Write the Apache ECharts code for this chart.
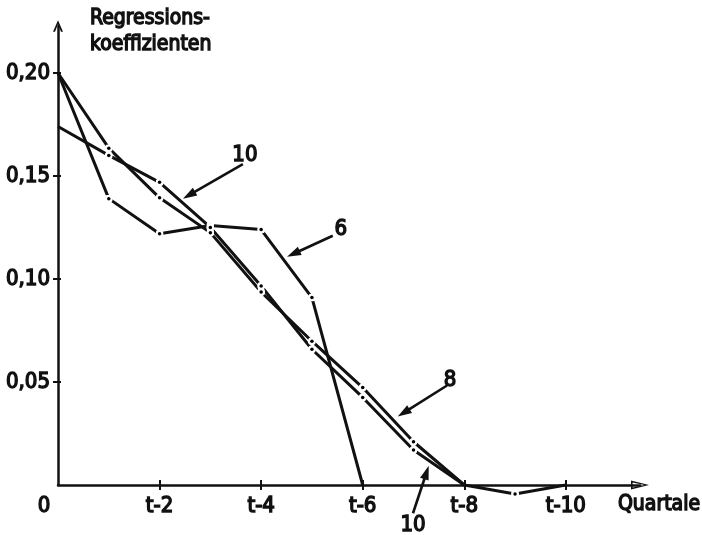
<!DOCTYPE html>
<html><head><meta charset="utf-8">
<script src="https://cdn.jsdelivr.net/npm/echarts@6/dist/echarts.min.js"></script>
<style>html,body{margin:0;padding:0;background:#fff}#c{width:702px;height:535px}</style>
</head><body><div id="c"></div>
<script>
// ---- data ----
const quarters = [0, 1, 2, 3, 4, 5, 6, 7, 8, 9, 10];
const xTickValues = [0, 2, 4, 6, 8, 10];
const xTickLabels = ['0', 't-2', 't-4', 't-6', 't-8', 't-10'];
const yTickValues = [0.05, 0.10, 0.15, 0.20];
const yTickLabels = ['0,05', '0,10', '0,15', '0,20'];
const lag6 = [0.200, 0.139, 0.122, 0.126, 0.124, 0.091, 0];
const lag8 = [0.200, 0.1635, 0.1394, 0.1225, 0.0937, 0.0698, 0.0473, 0.021, 0];
const lag10 = [0.174, 0.160, 0.1469, 0.125, 0.0966, 0.0659, 0.0425, 0.017, 0, -0.0044, 0];
const annotLabels = ['10', '6', '8', '10'];
const annotTail = [[3.64, 0.1557], [5.41, 0.121], [7.66, 0.0483], [6.99, -0.0137]];
const annotHead = [[2.46, 0.139], [4.51, 0.1108], [6.69, 0.0332], [7.30, 0.0093]];
const annotText = [[3.68, 0.160], [5.57, 0.124], [7.72, 0.0508], [6.99, -0.0195]];

const FONT = '"DejaVu Sans Condensed", "DejaVu Sans", sans-serif';
const INK = '#111';
const FS = 22;
const TXT = { color: INK, fontFamily: FONT, fontSize: FS, fontWeight: 'normal', textBorderColor: INK, textBorderWidth: 1.4 };

const dotSvg = '<svg xmlns="http://www.w3.org/2000/svg" width="16" height="16"><circle cx="8" cy="8" r="8" fill="white"/><circle cx="8" cy="8" r="3.5" fill="black"/></svg>';
const dotSym = 'image://data:image/svg+xml;charset=utf-8,' + encodeURIComponent(dotSvg);

function build(arr) {
  return arr.map((v, i) => ({
    value: [quarters[i], v],
    symbol: (i === 0 || i === arr.length - 1 || v === 0) ? 'none' : dotSym
  }));
}
function lineSeries(name, arr) {
  return {
    name, type: 'line', data: build(arr), clip: false,
    symbolSize: 8, showSymbol: true, animation: false,
    lineStyle: { color: INK, width: 3 },
    itemStyle: { color: INK }
  };
}

const yArrow = 'path://M6,0 L12,14 L9.6,14 L6,5 L2.4,14 L0,14 Z';
const xArrow = 'path://M5,0 L10,20 L0,20 Z M5,5 L2.2,18.2 L7.8,18.2 Z';

const chart = echarts.init(document.getElementById('c'), null, { renderer: 'canvas' });
const xLab = Object.assign({
  customValues: xTickValues, margin: 10,
  formatter: v => { const i = xTickValues.indexOf(v); return v === 0 ? '{z|0}' : (i >= 0 ? xTickLabels[i] : ''); },
  rich: { z: Object.assign({ padding: [0, 28, 0, 0] }, TXT) }
}, TXT);
chart.setOption({
  animation: false,
  backgroundColor: '#fff',
  grid: { left: 58, right: 62, top: 26, bottom: 50, containLabel: false, outerBoundsMode: 'none' },
  xAxis: [{
    type: 'value', min: 0, max: 11.46,
    axisLine: { show: true, onZero: false, symbol: ['none', xArrow], symbolSize: [9, 22], lineStyle: { color: INK, width: 2.5 } },
    axisTick: { show: true, customValues: [2, 4, 6, 8, 10], length: 5, lineStyle: { color: INK, width: 2 } },
    axisLabel: xLab,
    splitLine: { show: false },
    name: 'Quartale', nameLocation: 'end', nameGap: -22,
    nameTextStyle: Object.assign({}, TXT, { fontSize: 21, align: 'left', verticalAlign: 'top', padding: [9, 0, 0, 0] })
  }, {
    type: 'value', min: 0, max: 11.46, position: 'bottom', offset: 0,
    axisLine: { show: false }, axisLabel: { show: false }, splitLine: { show: false },
    axisTick: { show: true, inside: true, customValues: [2, 4, 6, 8, 10], length: 5, lineStyle: { color: INK, width: 2 } }
  }],
  yAxis: [{
    type: 'value', min: 0, max: 0.2228,
    axisLine: { show: true, onZero: false, symbol: ['none', yArrow], symbolSize: [10, 14], lineStyle: { color: INK, width: 2.5 } },
    axisTick: { show: true, customValues: yTickValues, length: 5, lineStyle: { color: INK, width: 2 } },
    axisLabel: Object.assign({
      customValues: yTickValues, margin: 8,
      formatter: v => { const i = yTickValues.findIndex(t => Math.abs(t - v) < 1e-9); return i >= 0 ? yTickLabels[i] : ''; }
    }, TXT),
    splitLine: { show: false },
    name: 'Regressions-\nkoeffizienten', nameLocation: 'end', nameGap: 20,
    nameTextStyle: Object.assign({}, TXT, { fontSize: 21, align: 'left', verticalAlign: 'top', lineHeight: 26, padding: [0, 0, 0, 32] })
  }, {
    type: 'value', min: 0, max: 0.2228, position: 'left', offset: 0,
    axisLine: { show: false }, axisLabel: { show: false }, splitLine: { show: false },
    axisTick: { show: true, inside: true, customValues: yTickValues, length: 3, lineStyle: { color: INK, width: 2 } }
  }],
  series: [lineSeries('6', lag6), lineSeries('8', lag8), lineSeries('10', lag10)]
});

// annotations positioned through the chart's own scales
const g = [];
annotLabels.forEach((lab, i) => {
  const T = chart.convertToPixel({ seriesIndex: 0 }, annotTail[i]);
  const H = chart.convertToPixel({ seriesIndex: 0 }, annotHead[i]);
  const P = chart.convertToPixel({ seriesIndex: 0 }, annotText[i]);
  const dx = H[0] - T[0], dy = H[1] - T[1], len = Math.hypot(dx, dy);
  const ux = dx / len, uy = dy / len, L = 14, w = 4.5;
  const bx = H[0] - ux * L, by = H[1] - uy * L;
  g.push({ type: 'line', shape: { x1: T[0], y1: T[1], x2: bx + ux * 2, y2: by + uy * 2 }, style: { stroke: INK, lineWidth: 2.6 }, z: 10 });
  g.push({ type: 'polygon', shape: { points: [[H[0], H[1]], [bx - uy * w, by + ux * w], [bx + uy * w, by - ux * w]] }, style: { fill: INK }, z: 10 });
  g.push({ type: 'text', x: P[0], y: P[1], style: { text: lab, fill: INK, stroke: INK, lineWidth: 1.4, fontFamily: FONT, fontSize: FS, align: 'center', verticalAlign: 'middle', textAlign: 'center', textVerticalAlign: 'middle' }, z: 10 });
});
chart.setOption({ graphic: g });
</script>
</body></html>
